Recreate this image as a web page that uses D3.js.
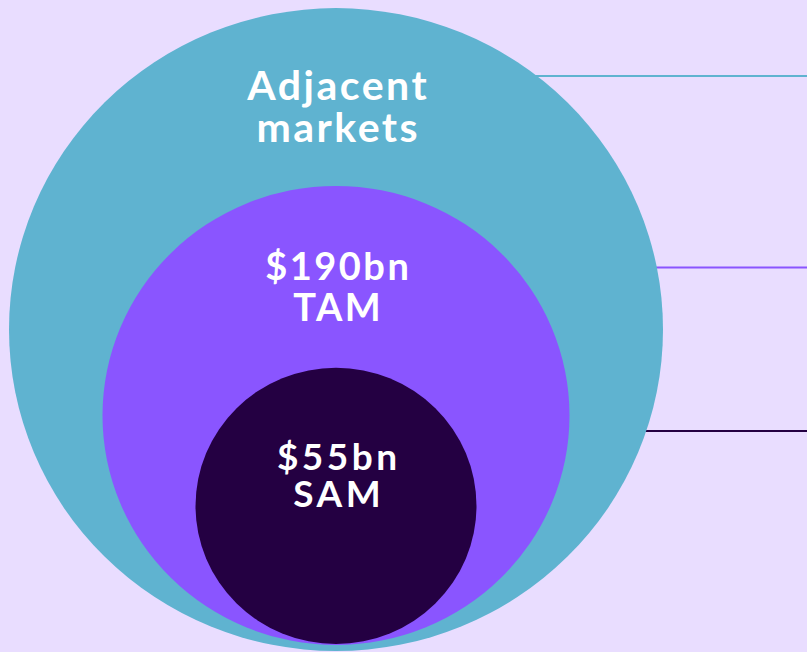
<!DOCTYPE html>
<html>
<head>
<meta charset="utf-8">
<script src="https://cdn.jsdelivr.net/npm/d3@7"></script>
<style>
  html, body { margin: 0; padding: 0; background: #E9DDFF; }
  svg { display: block; }
  .label { font-family: Lato, "Open Sans", sans-serif; font-weight: 700; fill: #fff; }
</style>
</head>
<body>
<svg width="807" height="652"></svg>
<script>
// market data (outer to inner)
var categories = ["Adjacent markets", "TAM", "SAM"];
var values = [null, 190, 55];
var labelLines = [["Adjacent", "markets"], ["$190bn", "TAM"], ["$55bn", "SAM"]];

var colors = d3.scaleOrdinal().domain(categories).range(["#5FB3D0", "#8A55FF", "#240042"]);

var svg = d3.select("svg"),
    width = +svg.attr("width"),
    height = +svg.attr("height");

// layout: circle radii by rank, bottoms nearly aligned
var radius = d3.scaleOrdinal().domain(categories).range([327, 233.5, 140.5]);
var bottom = d3.scaleOrdinal().domain(categories).range([651, 645, 644]);
var squash = 0.983;
var cx = 336;

// leader line heights
var leaderY = d3.scaleOrdinal().domain(categories).range([76, 267.5, 431]);
// text layout
var fontSize = d3.scaleOrdinal().domain(categories).range([41, 38, 37]);
var spacing = d3.scaleOrdinal().domain(categories).range([2.5, 2.5, 3.5]);
var firstBase = d3.scaleOrdinal().domain(categories).range([100, 280, 470]);
var lineGap = d3.scaleOrdinal().domain(categories).range([42, 41, 37]);

var rows = categories.map(function (c, i) {
    return { name: c, value: values[i], lines: labelLines[i] };
});

//leader lines (behind the circles)
svg.selectAll(".leader")
    .data(rows)
    .enter()
    .append("line")
    .attr("class", "leader")
    .attr("x1", cx)
    .attr("x2", width)
    .attr("y1", function (d) { return leaderY(d.name); })
    .attr("y2", function (d) { return leaderY(d.name); })
    .attr("stroke", function (d) { return colors(d.name); })
    .attr("stroke-width", 2);

//circles
svg.selectAll(".market")
    .data(rows)
    .enter()
    .append("ellipse")
    .attr("class", "market")
    .attr("cx", cx)
    .attr("rx", function (d) { return radius(d.name); })
    .attr("ry", function (d) { return radius(d.name) * squash; })
    .attr("cy", function (d) { return bottom(d.name) - radius(d.name) * squash; })
    .attr("fill", function (d) { return colors(d.name); });

//labels, one text per line
svg.selectAll(".label")
    .data(d3.merge(rows.map(function (d) {
        return d.lines.map(function (t, j) { return { t: t, j: j, name: d.name }; });
    })))
    .enter()
    .append("text")
    .attr("class", "label")
    .attr("text-anchor", "middle")
    .attr("font-size", function (d) { return fontSize(d.name); })
    .attr("letter-spacing", function (d) { return spacing(d.name); })
    .attr("x", function (d) { return cx + 1 + spacing(d.name) / 2; })
    .attr("y", function (d) { return firstBase(d.name) + d.j * lineGap(d.name); })
    .text(function (d) { return d.t; });
</script>
</body>
</html>
